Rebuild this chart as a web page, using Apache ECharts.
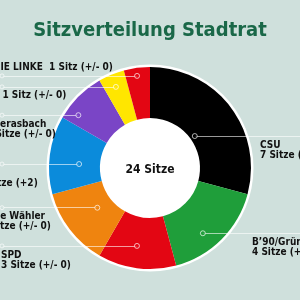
<!DOCTYPE html>
<html><head><meta charset="utf-8">
<script src="https://cdn.jsdelivr.net/npm/echarts@6/dist/echarts.min.js"></script>
<style>html,body{margin:0;padding:0;background:#cfe0dc;overflow:hidden}#c{width:300px;height:300px}</style>
</head><body><div id="c"></div>
<script>
// ---- data ----
const parties = ['CSU', 'B\u201990/Grüne', 'SPD', 'Freie Wähler', 'AfD', 'Oberasbach', 'FDP', 'DIE LINKE'];
const seats = [7, 4, 3, 3, 3, 2, 1, 1];
const changes = ['+/- 0', '+/- 0', '+/- 0', '+/- 0', '+2', '+/- 0', '+/- 0', '+/- 0'];
const colors = ['#000000', '#1f9e3a', '#e30613', '#ef840f', '#0b8bdb', '#7a45c6', '#ffe600', '#e30613'];
const titleText = 'Sitzverteilung Stadtrat';

// ---- layout ----
const FONT = "'DejaVu Sans Condensed', 'DejaVu Sans', sans-serif";
const CX = 150, CY = 168, R_IN = 50, R_OUT = 101;
const dotRadius = [55, 84, 79, 66, 71, 89, 88, 93];
const dotAngleOffset = [2, 6, 2, 0.5, -4.3, -8.6, -0.3, -0.5];
const labelX = [260, 252, 1, -19, -22, -14, -24, -7];
const labelAbove = [false, false, false, false, false, false, false, true];

const total = seats.reduce((a, b) => a + b, 0);
const dots = [];
let acc = 0;
seats.forEach((s, i) => {
  const mid = (acc + s / 2) / total * 360 + dotAngleOffset[i];
  acc += s;
  const a = mid * Math.PI / 180;
  dots.push([CX + dotRadius[i] * Math.sin(a), CY - dotRadius[i] * Math.cos(a)]);
});

const lineData = dots.map(d => ({coords: d[0] < CX ? [[2, d[1]], d] : [d, [300, d[1]]]}));
const innerDots = dots.map((d, i) => ({value: d, itemStyle: {color: colors[i]}}));
const endDots = dots.filter(d => d[0] < CX).map(d => [2, d[1]]);

function labelText(i) {
  if (seats[i] === 1) return parties[i] + '  1 Sitz (' + changes[i] + ')';
  return parties[i] + '\n' + seats[i] + ' Sitze (' + changes[i] + ')';
}

const chart = echarts.init(document.getElementById('c'), null, {renderer: 'canvas'});
chart.setOption({
  backgroundColor: '#cfe0dc',
  animation: false,
  title: {
    text: titleText, left: 'center', top: 16,
    textStyle: {color: '#1a6848', fontSize: 20, fontWeight: 'bold', fontFamily: FONT}
  },
  grid: {left: 0, right: 0, top: 0, bottom: 0},
  xAxis: {type: 'value', min: 0, max: 300, show: false},
  yAxis: {type: 'value', min: 0, max: 300, inverse: true, show: false},
  graphic: [{
    type: 'text', x: CX, y: CY + 2, z: 100,
    style: {text: total + ' Sitze', textAlign: 'center', textVerticalAlign: 'middle',
      font: 'bold 12px ' + FONT, fill: '#111'}
  }],
  series: [
    {
      type: 'pie', center: [CX, CY], radius: [0, R_OUT + 2.5], silent: true, z: 1,
      label: {show: false}, labelLine: {show: false},
      data: [{value: 1, itemStyle: {color: '#ffffff'}}]
    },
    {
      type: 'pie', center: [CX, CY], radius: [R_IN, R_OUT], startAngle: 90, clockwise: true,
      silent: true, z: 2, avoidLabelOverlap: false,
      data: parties.map((p, i) => ({name: p, value: seats[i], itemStyle: {color: colors[i]}})),
      label: {
        show: true, position: 'outside',
        formatter: p => labelText(p.dataIndex),
        color: '#111', fontFamily: FONT, fontWeight: 'bold', fontSize: 10, lineHeight: 10
      },
      labelLine: {show: false},
      labelLayout: function (params) {
        const i = params.dataIndex;
        const y = dots[i][1];
        return labelAbove[i]
          ? {x: labelX[i], y: y - 3, align: 'left', verticalAlign: 'bottom'}
          : {x: labelX[i], y: y + 4, align: 'left', verticalAlign: 'top'};
      }
    },
    {
      type: 'lines', coordinateSystem: 'cartesian2d', silent: true, z: 3,
      lineStyle: {color: 'rgba(255,255,255,0.6)', width: 1.2, opacity: 1},
      data: lineData
    },
    {
      type: 'scatter', silent: true, z: 4, symbolSize: 5,
      itemStyle: {borderColor: 'rgba(255,255,255,0.85)', borderWidth: 1},
      data: innerDots
    },
    {
      type: 'scatter', silent: true, z: 4, symbolSize: 4,
      itemStyle: {color: '#cfe0dc', borderColor: 'rgba(255,255,255,0.8)', borderWidth: 1},
      data: endDots
    }
  ]
});
</script>
</body></html>
